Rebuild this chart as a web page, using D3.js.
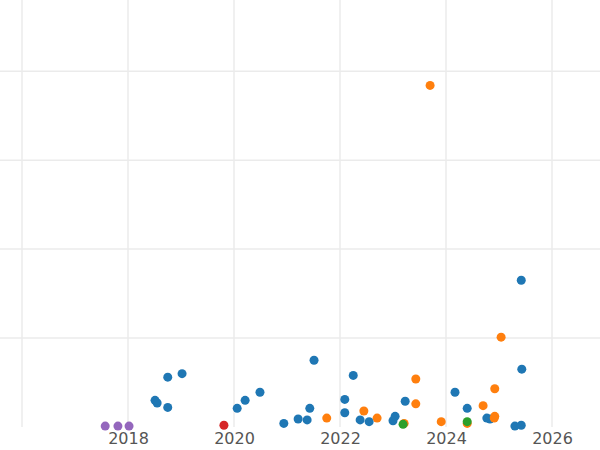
<!DOCTYPE html>
<html><head><meta charset="utf-8">
<script src="https://cdn.jsdelivr.net/npm/d3@7"></script>
<style>body{margin:0;background:#fff}</style></head>
<body><svg id="chart" width="600" height="450"></svg>
<script>
const blueX = [2018.51,2018.55,2018.75,2018.75,2019.02,2020.06,2020.21,2020.49,2020.94,2021.21,2021.38,2021.43,2021.51,2022.09,2022.09,2022.25,2022.38,2022.55,2023.0,2023.04,2023.23,2024.17,2024.40,2024.77,2024.83,2025.30,2025.42,2025.42,2025.43]
const blueY = [0.30,0.27,0.56,0.22,0.60,0.21,0.30,0.39,0.04,0.09,0.08,0.21,0.75,0.31,0.16,0.58,0.08,0.06,0.07,0.12,0.29,0.39,0.21,0.10,0.09,0.01,0.02,1.65,0.65]
const orangeX = [2023.70,2021.75,2022.45,2022.70,2023.21,2023.43,2023.43,2023.91,2024.40,2024.70,2024.91,2024.92,2024.92,2025.04]
const orangeY = [3.84,0.10,0.18,0.10,0.04,0.54,0.26,0.06,0.04,0.24,0.10,0.12,0.43,1.01]
const greenX = [2023.19,2024.40]
const greenY = [0.03,0.06]
const redX = [2019.81]
const redY = [0.02]
const purpleX = [2017.57,2017.81,2018.02]
const purpleY = [0.01,0.01,0.01]
const xTicks = [2018,2020,2022,2024,2026]
const yGrid = [1,2,3,4]

const series = [
  {xs: blueX, ys: blueY, color: '#1f77b4'},
  {xs: orangeX, ys: orangeY, color: '#ff7f0e'},
  {xs: greenX, ys: greenY, color: '#2ca02c'},
  {xs: redX, ys: redY, color: '#d62728'},
  {xs: purpleX, ys: purpleY, color: '#9467bd'}
]

const chart = d3.select('#chart')
const x = d3.scaleLinear().domain([2016, 2016 + 578 / 53]).range([22, 600])
const y = d3.scaleLinear().domain([0, 4.8]).range([427, 0])

// grid
chart.selectAll().data([2016, ...xTicks]).enter().append('line')
  .attr('x1', d => x(d)).attr('x2', d => x(d)).attr('y1', 0).attr('y2', 427)
  .attr('stroke', '#ebebeb').attr('stroke-width', 1.5)
chart.selectAll().data(yGrid).enter().append('line')
  .attr('x1', 0).attr('x2', 600).attr('y1', d => y(d)).attr('y2', d => y(d))
  .attr('stroke', '#ebebeb').attr('stroke-width', 1.5)

// points
series.forEach(s => {
  chart.selectAll().data(s.xs.map((v, i) => [v, s.ys[i]])).enter().append('circle')
    .attr('cx', d => x(d[0])).attr('cy', d => y(d[1])).attr('r', 4.5)
    .attr('fill', s.color)
})

// x axis
const xAxis = d3.axisBottom(x).tickValues(xTicks).tickFormat(d3.format('d')).tickSize(0).tickPadding(6)
const g = chart.append('g').attr('transform', 'translate(0,427)').call(xAxis)
g.select('.domain').remove()
g.selectAll('text').attr('font-family', 'DejaVu Sans').attr('font-size', 16).attr('fill', '#555')
</script></body></html>
